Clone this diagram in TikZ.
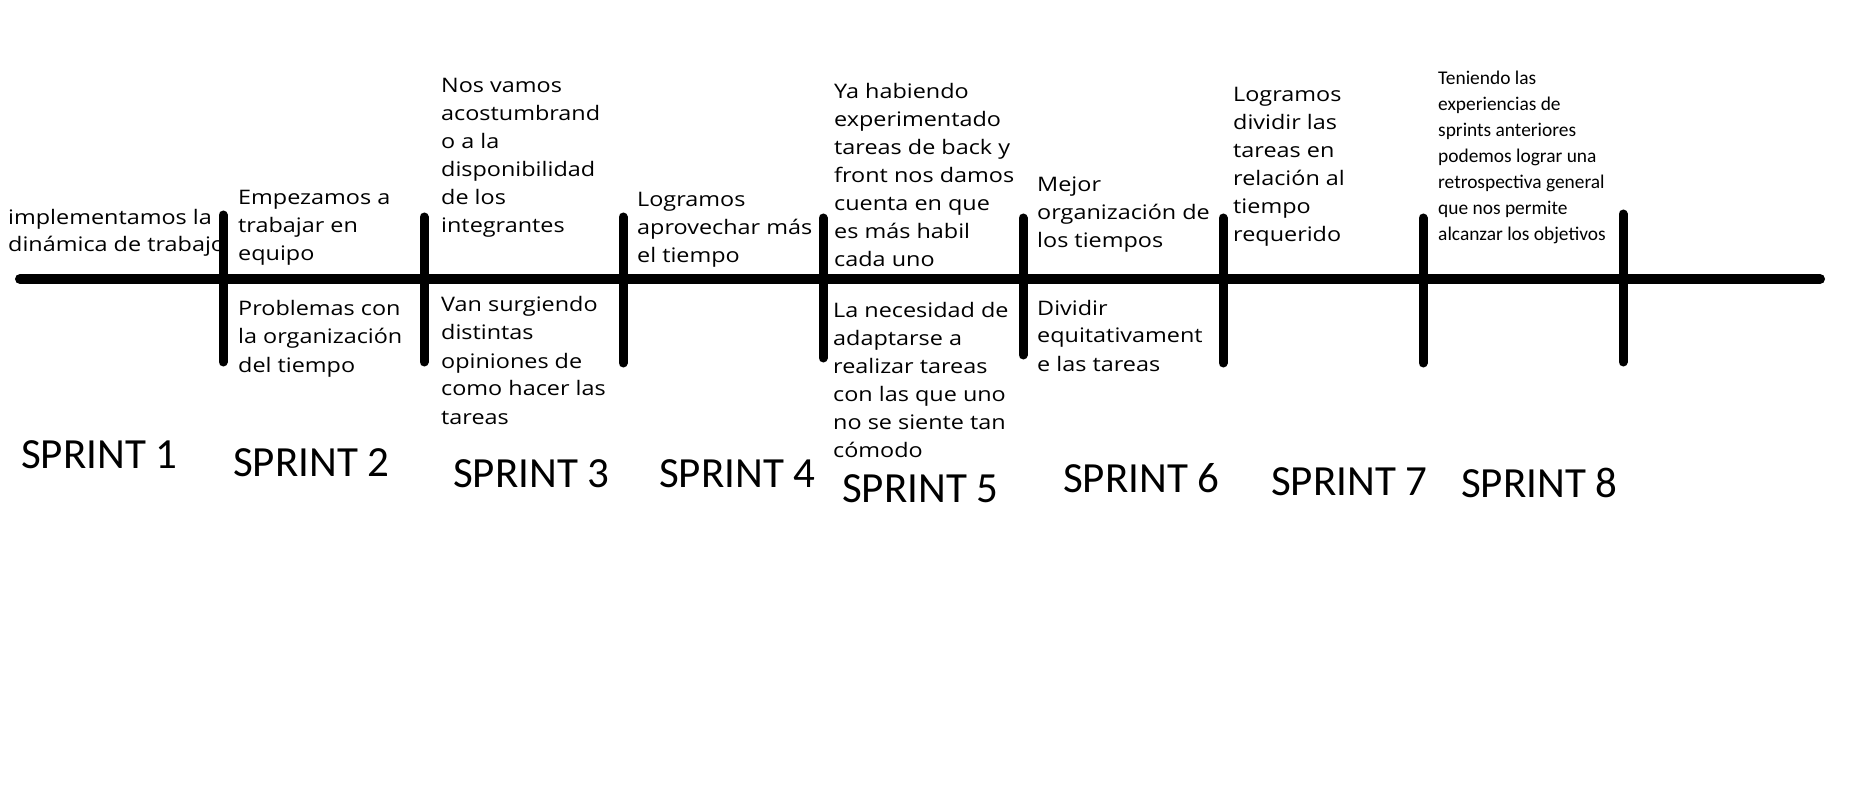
\documentclass[tikz,border=0pt]{standalone}
\usepackage{fontspec}
\newfontfamily\tfont[FakeStretch=1.17]{Open Sans}
\newfontfamily\cfont{Carlito}
\tikzset{
  txt/.style={anchor=base west, inner sep=0pt, align=left, font=\tfont\fontsize{20}{28}\selectfont},
  smalltxt/.style={anchor=base west, inner sep=0pt, align=left, font=\cfont\fontsize{19.4}{26}\selectfont},
  sprintlbl/.style={anchor=base west, inner sep=0pt, font=\cfont\fontsize{43}{50}\selectfont},
  axis/.style={line width=10pt, line cap=round},
  tick/.style={line width=9pt, line cap=round}
}
\begin{document}
\begin{tikzpicture}[x=1pt,y=-1pt]
\useasboundingbox (0,0) rectangle (1849,799);
\fill[white] (0,0) rectangle (1849,799);
% texts (anchored at the baseline of their last line)
\begin{scope}
\clip (0,150) rectangle (222,300);
\node[txt, font=\tfont\fontsize{20}{27}\selectfont] (b1top) at (8,252) {implementamos la\\dinámica de trabajo};
\end{scope}
\node[txt] (b2top) at (238,261) {Empezamos a\\trabajar en\\equipo};
\node[txt] (b2bot) at (238,372) {Problemas con\\la organización\\del tiempo};
\node[txt] (b3top) at (441,233) {Nos vamos\\acostumbrand\\o a la\\disponibilidad\\de los\\integrantes};
\node[txt] (b3bot) at (441,424) {Van surgiendo\\distintas\\opiniones de\\como hacer las\\tareas};
\node[txt] (b4top) at (637,263) {Logramos\\aprovechar más\\el tiempo};
\node[txt] (b5top) at (834,267) {Ya habiendo\\experimentado\\tareas de back y\\front nos damos\\cuenta en que\\es más habil\\cada uno};
\node[txt] (b5bot) at (833,457) {La necesidad de\\adaptarse a\\realizar tareas\\con las que uno\\no se siente tan\\cómodo};
\node[txt] (b6top) at (1037,248) {Mejor\\organización de\\los tiempos};
\node[txt] (b6bot) at (1037,371) {Dividir\\equitativament\\e las tareas};
\node[txt] (b7top) at (1233,242) {Logramos\\dividir las\\tareas en\\relación al\\tiempo\\requerido};
\node[smalltxt] (b8top) at (1438,241) {Teniendo las\\experiencias de\\sprints anteriores\\podemos lograr una\\retrospectiva general\\que nos permite\\alcanzar los objetivos};
% sprint labels
\node[sprintlbl] (s1) at (21,468) {SPRINT 1};
\node[sprintlbl] (s2) at (233,476) {SPRINT 2};
\node[sprintlbl] (s3) at (453,487) {SPRINT 3};
\node[sprintlbl] (s4) at (659,487) {SPRINT 4};
\node[sprintlbl] (s5) at (842,502) {SPRINT 5};
\node[sprintlbl] (s6) at (1063,492) {SPRINT 6};
\node[sprintlbl] (s7) at (1271,495) {SPRINT 7};
\node[sprintlbl] (s8) at (1461,497) {SPRINT 8};
% axis
\coordinate (axL) at (20,279);
\coordinate (axR) at (1820,279);
\draw[axis] (axL) -- (axR);
% ticks
\coordinate (t1a) at (223,215); \coordinate (t1b) at (223,362);
\coordinate (t2a) at (424,217); \coordinate (t2b) at (424,362);
\coordinate (t3a) at (623,217); \coordinate (t3b) at (623,363);
\coordinate (t4a) at (823,218); \coordinate (t4b) at (823,358);
\coordinate (t5a) at (1023,218); \coordinate (t5b) at (1023,355);
\coordinate (t6a) at (1223,218); \coordinate (t6b) at (1223,363);
\coordinate (t7a) at (1423,218); \coordinate (t7b) at (1423,363);
\coordinate (t8a) at (1623,214); \coordinate (t8b) at (1623,362);
\foreach \i in {1,...,8} { \draw[tick] (t\i a) -- (t\i b); }
\end{tikzpicture}
\end{document}
